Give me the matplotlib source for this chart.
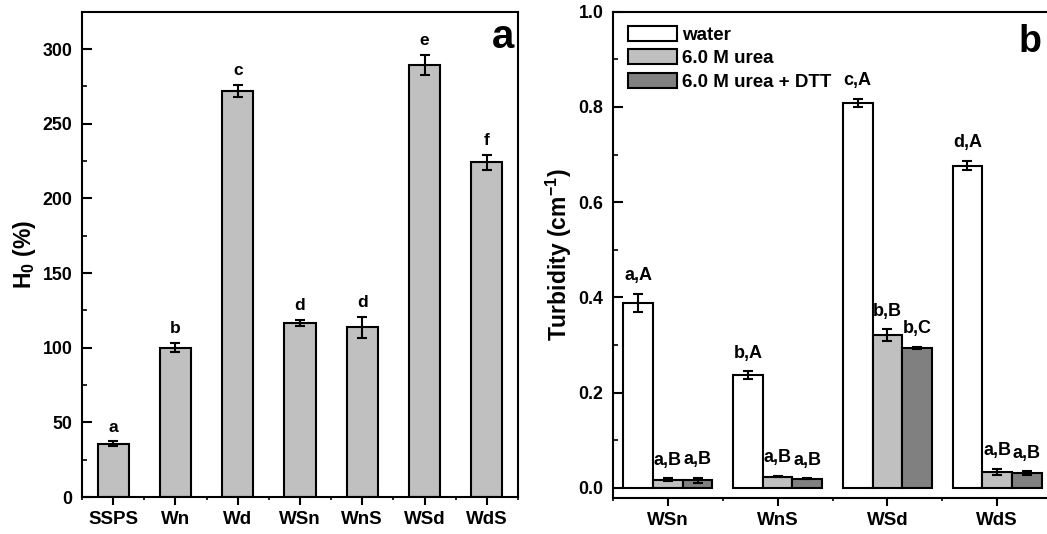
import numpy as np
import matplotlib
matplotlib.use('Agg')
import matplotlib.pyplot as plt
from matplotlib.ticker import MultipleLocator, FixedLocator, FormatStrFormatter

plt.rcParams['font.family'] = ['Liberation Sans', 'DejaVu Sans']
plt.rcParams['font.weight'] = 'bold'
plt.rcParams['mathtext.fontset'] = 'custom'
plt.rcParams['mathtext.rm'] = 'Liberation Sans:bold'
plt.rcParams['mathtext.bf'] = 'Liberation Sans:bold'

# panel a data
samples = ['SSPS', 'Wn', 'Wd', 'WSn', 'WnS', 'WSd', 'WdS']
h0 = [35.7, 100.0, 272.0, 116.5, 113.7, 289.3, 224.3]
h0_err = [1.5, 3.0, 4.0, 2.0, 7.0, 7.0, 5.0]
h0_letters = ['a', 'b', 'c', 'd', 'd', 'e', 'f']

# panel b data
groups = ['WSn', 'WnS', 'WSd', 'WdS']
series = ['water', '6.0 M urea', '6.0 M urea + DTT']
turb_water = [0.389, 0.237, 0.808, 0.677]
turb_urea = [0.017, 0.024, 0.321, 0.0335]
turb_dtt = [0.016, 0.019, 0.294, 0.031]
err_water = [0.019, 0.008, 0.009, 0.010]
err_urea = [0.003, 0.001, 0.012, 0.006]
err_dtt = [0.005, 0.001, 0.003, 0.004]
lab_water = ['a,A', 'b,A', 'c,A', 'd,A']
lab_urea = ['a,B', 'a,B', 'b,B', 'a,B']
lab_dtt = ['a,B', 'a,B', 'b,C', 'a,B']

W, H = 1047, 534
fig = plt.figure(figsize=(W / 100, H / 100), dpi=100)


def px_axes(x0, y0, x1, y1):
    return fig.add_axes([x0 / W, (H - y1) / H, (x1 - x0) / W, (y1 - y0) / H])


def style(ax, nx):
    for s in ax.spines.values():
        s.set_linewidth(1.5)
    ax.tick_params(axis='y', which='major', direction='in', length=7, width=1.5,
                   labelsize=12.8, pad=7)
    ax.tick_params(axis='y', which='minor', direction='in', length=3.5, width=1.2)
    ax.tick_params(axis='x', which='major', direction='out', length=6, width=1.5,
                   labelsize=13.5, pad=4)
    ax.tick_params(axis='x', which='minor', direction='out', length=2.5, width=1.2)
    ax.xaxis.set_minor_locator(FixedLocator(np.arange(0.5, nx + 1, 1)))


# ---- panel a ----
ax1 = px_axes(82, 11.7, 518, 497)
x1 = np.arange(1, len(samples) + 1)
ax1.bar(x1, h0, width=0.5, color='#c0c0c0', edgecolor='black', linewidth=1.5, zorder=2)
ax1.errorbar(x1, h0, yerr=h0_err, fmt='none', ecolor='black', elinewidth=1.5,
             capsize=3.6, capthick=1.5, zorder=3)
for xi, v, e, t in zip(x1, h0, h0_err, h0_letters):
    ax1.annotate(t, (xi, v + e), xytext=(0, 5), textcoords='offset points',
                 ha='center', va='bottom', fontsize=12.5, fontweight='bold')
ax1.set_xlim(0.5, 7.5)
ax1.set_ylim(0, 325)
ax1.set_xticks(x1)
ax1.set_xticklabels(samples)
ax1.yaxis.set_major_locator(MultipleLocator(50))
ax1.yaxis.set_minor_locator(MultipleLocator(25))
style(ax1, 7)
ax1.set_ylabel(r'H$_\mathregular{0}$ (%)', fontsize=16.5, fontweight='bold', labelpad=3)
ax1.text(0.965, 0.925, 'a', transform=ax1.transAxes, ha='center', va='baseline',
         fontsize=29, fontweight='bold')

# ---- panel b ----
ax2 = px_axes(613, 11.7, 1052, 497.7)
x2 = np.arange(1, len(groups) + 1)
bw = 0.27
cols = ['white', '#c0c0c0', '#808080']
vals = [turb_water, turb_urea, turb_dtt]
errs = [err_water, err_urea, err_dtt]
labs = [lab_water, lab_urea, lab_dtt]
for k in range(3):
    xs = x2 + (k - 1) * bw
    ax2.bar(xs, vals[k], width=bw, color=cols[k], edgecolor='black', linewidth=1.5,
            label=series[k], zorder=2)
    ax2.errorbar(xs, vals[k], yerr=errs[k], fmt='none', ecolor='black', elinewidth=1.5,
                 capsize=3.6, capthick=1.5, zorder=3)
    for xi, v, e, t in zip(xs, vals[k], errs[k], labs[k]):
        ax2.annotate(t, (xi, v + e), xytext=(0, 7), textcoords='offset points',
                     ha='center', va='bottom', fontsize=13, fontweight='bold')
ax2.set_xlim(0.5, 4.5)
ax2.set_ylim(-0.0204, 1.0)
ax2.set_xticks(x2)
ax2.set_xticklabels(groups)
ax2.yaxis.set_major_locator(MultipleLocator(0.2))
ax2.yaxis.set_minor_locator(MultipleLocator(0.1))
ax2.yaxis.set_major_formatter(FormatStrFormatter('%.1f'))
style(ax2, 4)
ax2.set_ylabel(r'Turbidity (cm$^\mathregular{-1}$)', fontsize=16.5, fontweight='bold',
               labelpad=3)
fig.text(1030 / W, 1 - 52 / H, 'b', ha='center', va='baseline', fontsize=27,
         fontweight='bold')
ax2.legend(loc='upper left', bbox_to_anchor=(0.0, 1.002), frameon=False,
           prop={'weight': 'bold', 'size': 13.5}, handlelength=2.6, handleheight=0.85,
           labelspacing=0.3, handletextpad=0.3, borderaxespad=0.4)

fig.savefig('out.png', dpi=100)
